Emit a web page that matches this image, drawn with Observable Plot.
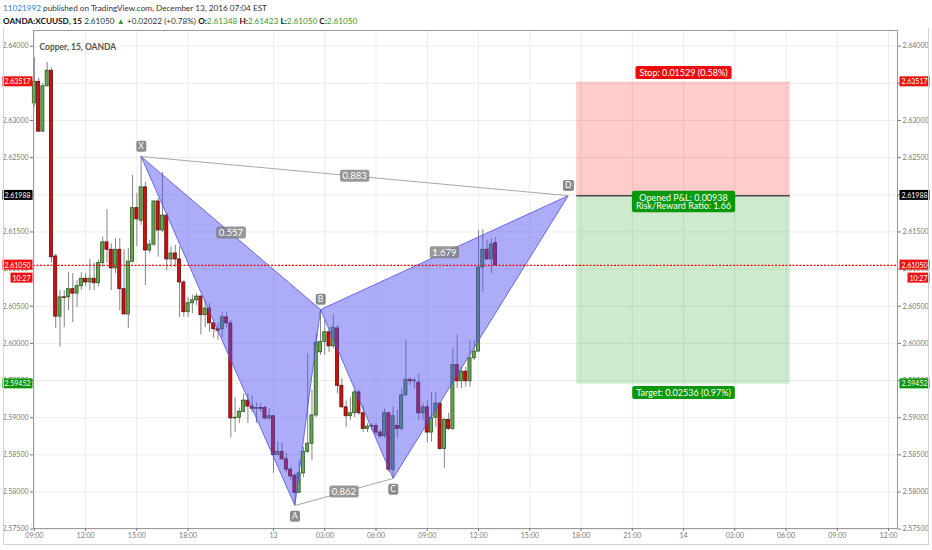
<!DOCTYPE html>
<html><head><meta charset="utf-8">
<script src="https://cdn.jsdelivr.net/npm/d3@7"></script>
<script src="https://cdn.jsdelivr.net/npm/@observablehq/plot@0.6"></script>
<style>
body{margin:0;background:#fff;font-family:Lato,"Open Sans",sans-serif;}
#wrap{position:relative;width:932px;height:550px;overflow:hidden;background:#fff;}
#hdr{height:30px;padding:2px 0 0 3px;box-sizing:border-box;font-size:8.2px;line-height:13px;color:#333;white-space:nowrap;}
#hdr .u{color:#2a7fd4}
#hdr .g{color:#3a9a2a}
#hdr b{color:#111}
#border{position:absolute;left:3px;top:28px;width:924px;height:516px;border:1px solid #cfd3d8;border-top:none;pointer-events:none;}
</style></head>
<body>
<div id="wrap">
<div id="hdr">
<div><span class="u">11021992</span> published on TradingView.com, December 13, 2016 07:04 EST</div>
<div><b>OANDA:XCUUSD, 15</b> 2.61050 <span class="g">▲</span> +0.02022 (+0.78%) <b>O:</b><span class="g">2.61348</span> <b>H:</b><span class="g">2.61423</span> <b>L:</b><span class="g">2.61050</span> <b>C:</b><span class="g">2.61050</span></div>
</div>
<div id="chart"></div>
<div id="border"></div>
</div>
<script>
// ---- data (15-minute OANDA copper candles) ----
const opens = [
2.6323,2.6352,2.6285,2.6346,2.6367,2.6117,2.6036,2.6062,2.6062,2.6073,
2.6067,2.6077,2.6087,2.6082,2.6087,2.6081,2.6108,2.6136,2.6126,2.6101,
2.6126,2.6073,2.6039,2.6110,2.6182,2.6165,2.6210,2.6125,2.6133,2.6191,
2.6152,2.6172,2.6113,2.6121,2.6113,2.6082,2.6042,2.6054,2.6058,2.6063,
2.6038,2.6047,2.6027,2.6019,2.6019,2.6035,2.6027,2.5899,2.5900,2.5908,
2.5923,2.5915,2.5912,2.5913,2.5913,2.5899,2.5902,2.5850,2.5854,2.5844,
2.5830,2.5822,2.5799,2.5825,2.5854,2.5865,2.5903,2.5988,2.6002,2.6015,
2.5996,2.6020,2.5943,2.5914,2.5902,2.5906,2.5934,2.5906,2.5885,2.5888,
2.5889,2.5880,2.5875,2.5906,2.5830,2.5889,2.5885,2.5930,2.5951,2.5949,
2.5947,2.5906,2.5914,2.5880,2.5900,2.5919,2.5858,2.5897,2.5885,2.5971,
2.5949,2.5962,2.5949,2.5980,2.5989,2.6102,2.6126,2.6113,2.61348];
const highs = [
2.6385,2.6357,2.6350,2.6378,2.6371,2.6120,2.6071,2.6071,2.6095,2.6094,
2.6085,2.6095,2.6094,2.6113,2.6108,2.6112,2.6143,2.6180,2.6134,2.6141,
2.6141,2.6126,2.6128,2.6226,2.6202,2.6252,2.6217,2.6139,2.6192,2.6195,
2.6230,2.6175,2.6130,2.6132,2.6130,2.6085,2.6062,2.6065,2.6067,2.6065,
2.6058,2.6054,2.6028,2.6027,2.6042,2.6042,2.6031,2.5927,2.5913,2.5932,
2.5932,2.5930,2.5920,2.5919,2.5916,2.5912,2.5903,2.5867,2.5866,2.5852,
2.5833,2.5825,2.5842,2.5860,2.5986,2.5937,2.6013,2.6045,2.6031,2.6021,
2.6038,2.6024,2.5953,2.5923,2.5927,2.5937,2.5937,2.5916,2.5892,2.5892,
2.5892,2.5883,2.5912,2.5907,2.5914,2.5910,2.5939,2.6004,2.5953,2.5953,
2.5959,2.5919,2.5923,2.5934,2.5934,2.5920,2.5899,2.5906,2.5993,2.6011,
2.5968,2.5968,2.6004,2.6004,2.6152,2.6153,2.6139,2.6141,2.61423];
const lows = [
2.6318,2.6284,2.6284,2.6345,2.6108,2.6020,2.5995,2.6021,2.6044,2.6028,
2.6048,2.6071,2.6076,2.6071,2.6071,2.6076,2.6102,2.6108,2.6071,2.6094,
2.6044,2.6038,2.6020,2.6108,2.6130,2.6159,2.6078,2.6121,2.6130,2.6116,
2.6149,2.6098,2.6102,2.6102,2.6035,2.6035,2.6035,2.6040,2.6051,2.6011,
2.6021,2.6015,2.6007,2.6004,2.6008,2.6021,2.5873,2.5880,2.5892,2.5907,
2.5892,2.5907,2.5892,2.5907,2.5897,2.5896,2.5825,2.5849,2.5842,2.5826,
2.5815,2.5782,2.5798,2.5819,2.5852,2.5842,2.5900,2.5984,2.5984,2.5988,
2.5993,2.5932,2.5912,2.5887,2.5896,2.5900,2.5903,2.5880,2.5880,2.5883,
2.5876,2.5872,2.5872,2.5826,2.5818,2.5873,2.5883,2.5930,2.5943,2.5939,
2.5896,2.5896,2.5866,2.5867,2.5887,2.5856,2.5832,2.5883,2.5883,2.5939,
2.5939,2.5941,2.5941,2.5977,2.5988,2.6068,2.6112,2.6094,2.61050];
const closes = [
2.6352,2.6285,2.6346,2.6367,2.6116,2.6036,2.6062,2.6061,2.6073,2.6067,
2.6077,2.6087,2.6082,2.6087,2.6081,2.6108,2.6136,2.6126,2.6101,2.6126,
2.6073,2.6039,2.6110,2.6182,2.6167,2.6210,2.6125,2.6133,2.6191,2.6152,
2.6172,2.6113,2.6121,2.6113,2.6082,2.6042,2.6054,2.6058,2.6063,2.6038,
2.6047,2.6027,2.6019,2.6017,2.6035,2.6027,2.5899,2.5900,2.5908,2.5923,
2.5915,2.5912,2.5913,2.5912,2.5899,2.5902,2.5850,2.5854,2.5844,2.5830,
2.5821,2.5799,2.5825,2.5854,2.5865,2.5903,2.6001,2.6002,2.6015,2.5996,
2.6021,2.5943,2.5914,2.5902,2.5906,2.5934,2.5906,2.5885,2.5888,2.5889,
2.5880,2.5875,2.5906,2.5830,2.5902,2.5885,2.5930,2.5951,2.5949,2.5950,
2.5906,2.5914,2.5880,2.5900,2.5919,2.5858,2.5897,2.5885,2.5971,2.5949,
2.5962,2.5949,2.5980,2.5989,2.6102,2.6126,2.6113,2.6133,2.61050];

// time axis (bar index -> label)
const xTicks = [0,12,24,36,56,68,80,92,104,116,128,140,152,164,176,188,200];
const xTickLabels = ["09:00","12:00","15:00","18:00","13","03:00","06:00","09:00","12:00","15:00","18:00","21:00","14","03:00","06:00","09:00","12:00"];
const yTicks = [2.575,2.58,2.585,2.59,2.595,2.6,2.605,2.61,2.615,2.62,2.625,2.63,2.635,2.64];

// XABCD pattern
const patternNames = ["X","A","B","C","D"];
const patternBars = [25,61,67,84,125];
const patternPrices = [2.62515,2.57818,2.60456,2.58182,2.61988];
const ratioLegs = [["X","B"],["X","D"],["B","D"],["A","C"]];
const ratioLabels = ["0.557","0.883","1.679","0.862"];

// short position tool
const boxStart = 127, boxEnd = 177;
const entryPrice = 2.61988, stopPrice = 2.63517, targetPrice = 2.59452;
const stopText = "Stop: 0.01529 (0.58%)";
const pnlText = "Opened P&L: 0.00938\nRisk/Reward Ratio: 1.66";
const targetText = "Target: 0.02536 (0.97%)";
const lastPrice = 2.61050, countdown = "10:27";
const tagValues = [2.63517, 2.61988, 2.61050, 2.59452];
const tagColors = ["#ee1111","#000000","#ee1111","#0a960a"];
const chartTitle = "Copper, 15, OANDA";

// ---- build ----
const candles = opens.map((o,i)=>({i,o,h:highs[i],l:lows[i],c:closes[i]}));
const up = candles.filter(d=>d.c>=d.o), down = candles.filter(d=>d.c<d.o);
const pts = patternNames.map((n,i)=>({n,x:patternBars[i],y:patternPrices[i]}));
const P = Object.fromEntries(pts.map(p=>[p.n,p]));
const tri = [["X","A","B","X"],["B","C","D","B"]].flatMap((t,k)=>t.map(n=>({...P[n],z:k})));
const links = [["X","D"],["A","C"]].map(([a,b])=>({x1:P[a].x,y1:P[a].y,x2:P[b].x,y2:P[b].y}));
const ratios = ratioLegs.map(([a,b],i)=>({x:(P[a].x+P[b].x)/2,y:(P[a].y+P[b].y)/2,t:ratioLabels[i]}));
const above = pts.filter(p=>["X","B","D"].includes(p.n)), below = pts.filter(p=>["A","C"].includes(p.n));
const boxMid = (boxStart+boxEnd)/2;
const xLabel = new Map(xTicks.map((t,i)=>[t,xTickLabels[i]]));
const fmt5 = d3.format(".5f");
const bg = (color, op=1, px=2, py=0.5, rx=0) => () => `bg|${color}|${op}|${px}|${py}|${rx}`;

const chart = Plot.plot({
  width: 932, height: 520,
  marginTop: 0, marginBottom: 22, marginLeft: 33, marginRight: 35,
  x: {type:"linear", domain:[-0.2, 202.1], axis:null},
  y: {domain:[2.57509, 2.64211], axis:null},
  style: {fontFamily:"Lato, 'Open Sans', sans-serif", background:"white", overflow:"visible"},
  marks: [
    Plot.gridX(xTicks, {stroke:"#ececec", strokeOpacity:1}),
    Plot.gridY(yTicks, {stroke:"#ececec", strokeOpacity:1}),
    Plot.rect([{x1:boxStart,x2:boxEnd,y1:entryPrice,y2:stopPrice}], {x1:"x1",x2:"x2",y1:"y1",y2:"y2",fill:"#ff0000",fillOpacity:0.2}),
    Plot.rect([{x1:boxStart,x2:boxEnd,y1:targetPrice,y2:entryPrice}], {x1:"x1",x2:"x2",y1:"y1",y2:"y2",fill:"#0a9a0a",fillOpacity:0.2}),
    Plot.ruleX(candles, {x:"i", y1:"l", y2:"h", stroke:"#858585", strokeWidth:1}),
    Plot.rect(up, {x1:d=>d.i-0.36, x2:d=>d.i+0.36, y1:"o", y2:"c", fill:"#67a352", stroke:"#2a5a20", strokeWidth:0.8}),
    Plot.rect(down, {x1:d=>d.i-0.36, x2:d=>d.i+0.36, y1:"o", y2:"c", fill:"#cc1010", stroke:"#650b0b", strokeWidth:0.8}),
    Plot.line(tri, {x:"x", y:"y", z:"z", fill:"#4f4ff0", fillOpacity:0.47, stroke:"#5050e0", strokeWidth:1, strokeOpacity:0.8}),
    Plot.link(links, {x1:"x1", y1:"y1", x2:"x2", y2:"y2", stroke:"#a8a8a8", strokeWidth:1}),
    Plot.ruleY([lastPrice], {stroke:"#ff0000", strokeWidth:1.4, strokeDasharray:"2,1.5"}),
    Plot.ruleY([{y:entryPrice,x1:boxStart,x2:boxEnd}], {y:"y", x1:"x1", x2:"x2", stroke:"#4a4a4a", strokeWidth:1.5}),
    Plot.text(ratios, {x:"x", y:"y", text:"t", fill:"white", fontSize:9.5, ariaLabel:bg("#7c7c7c",0.78,2.5,0.5,2)}),
    Plot.text(above, {x:"x", y:"y", text:"n", dy:-10, fill:"white", fontSize:8.5, ariaLabel:bg("#8a8a8a",1,2,0.5,2)}),
    Plot.text(below, {x:"x", y:"y", text:"n", dy:11, fill:"white", fontSize:8.5, ariaLabel:bg("#8a8a8a",1,2,0.5,2)}),
    Plot.text([{x:boxMid,y:stopPrice,t:stopText}], {x:"x", y:"y", text:"t", dy:-9, fill:"white", fontSize:9, ariaLabel:bg("#ee0a0a",1,4,1,2)}),
    Plot.text([{x:boxMid,y:entryPrice,t:pnlText}], {x:"x", y:"y", text:"t", dy:6.5, fill:"white", fontSize:9, lineHeight:0.95, ariaLabel:bg("#089808",1,4,1,2)}),
    Plot.text([{x:boxMid,y:targetPrice,t:targetText}], {x:"x", y:"y", text:"t", dy:9, fill:"white", fontSize:9, ariaLabel:bg("#089808",1,4,1,2)}),
    Plot.text([chartTitle], {text:d=>d, frameAnchor:"top-left", dx:6, dy:13, textAnchor:"start", fontSize:8.5, fontWeight:"bold", fill:"#555"}),
    Plot.frame({stroke:"#9a9a9a"}),
    Plot.axisY(yTicks, {anchor:"right", tickFormat:fmt5, tickSize:3, tickPadding:2, fontSize:7, color:"#777", label:null}),
    Plot.axisY(yTicks, {anchor:"left", tickFormat:fmt5, tickSize:3, tickPadding:2, fontSize:7, color:"#777", label:null}),
    Plot.axisX(xTicks, {anchor:"bottom", tickFormat:d=>xLabel.get(d), tickSize:3, tickPadding:2, fontSize:7, color:"#777", label:null}),
    Plot.text(tagValues, {y:d=>d, text:d=>fmt5(d), frameAnchor:"right", dx:4, textAnchor:"start", fill:"white", fontSize:7, ariaLabel:(d,i)=>`bg|${tagColors[i]}|1|2|1|0`}),
    Plot.text(tagValues, {y:d=>d, text:d=>fmt5(d), frameAnchor:"left", dx:-3, textAnchor:"end", fill:"white", fontSize:7, ariaLabel:(d,i)=>`bg|${tagColors[i]}|1|2|1|0`}),
    Plot.text([lastPrice], {y:d=>d, text:()=>countdown, frameAnchor:"right", dx:30, dy:13, textAnchor:"end", fill:"white", fontSize:7, ariaLabel:bg("#ee1111",1,2,1,0)}),
    Plot.text([lastPrice], {y:d=>d, text:()=>countdown, frameAnchor:"left", dx:-3, dy:13, textAnchor:"end", fill:"white", fontSize:7, ariaLabel:bg("#ee1111",1,2,1,0)})
  ]
});
document.getElementById("chart").append(chart);

// backgrounds for label boxes
const ns = "http://www.w3.org/2000/svg";
chart.querySelectorAll('[aria-label^="bg|"]').forEach(t => {
  if (t.tagName.toLowerCase() !== "text") return;
  const [, color, op, px, py, rx] = t.getAttribute("aria-label").split("|");
  const b = t.getBBox();
  const r = document.createElementNS(ns, "rect");
  r.setAttribute("x", b.x - +px); r.setAttribute("y", b.y - +py);
  r.setAttribute("width", b.width + 2 * +px); r.setAttribute("height", b.height + 2 * +py);
  r.setAttribute("rx", rx); r.setAttribute("fill", color); r.setAttribute("fill-opacity", op);
  r.setAttribute("stroke", "none");
  const tr = t.getAttribute("transform"); if (tr) r.setAttribute("transform", tr);
  t.parentNode.insertBefore(r, t);
  t.removeAttribute("aria-label");
});
</script>
</body></html>
